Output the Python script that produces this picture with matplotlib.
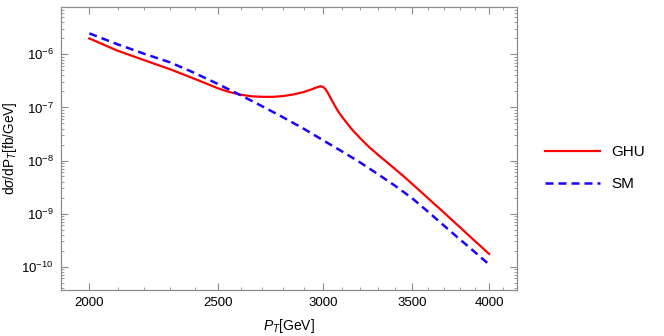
import numpy as np
import matplotlib
matplotlib.use("Agg")
import matplotlib.pyplot as plt
from matplotlib.ticker import FixedLocator, FixedFormatter, NullFormatter, LogLocator

plt.rcParams['font.family'] = ['Liberation Sans', 'DejaVu Sans']
plt.rcParams['mathtext.fontset'] = 'custom'
plt.rcParams['mathtext.rm'] = 'Liberation Sans'
plt.rcParams['mathtext.it'] = 'Liberation Sans:italic'

# transverse momentum grid (GeV) and log10 of d sigma / dP_T (fb/GeV)
pt_ghu = [2000, 2100, 2200, 2300, 2400, 2500, 2550, 2600, 2650, 2700, 2750, 2800,
          2850, 2900, 2940, 2965, 2985, 3000, 3012, 3025, 3040, 3060, 3080, 3100,
          3150, 3200, 3250, 3300, 3350, 3400, 3450, 3500, 3600, 3700, 3800, 3900, 4000]
log_ghu = [-5.70, -5.93, -6.11, -6.28, -6.46, -6.64, -6.71, -6.76, -6.79, -6.80, -6.80, -6.785,
           -6.755, -6.71, -6.66, -6.625, -6.60, -6.615, -6.655, -6.73, -6.83, -6.96, -7.08, -7.18,
           -7.40, -7.585, -7.75, -7.895, -8.03, -8.165, -8.30, -8.44, -8.715, -8.985, -9.25, -9.51, -9.76]

pt_sm = [2000, 2100, 2200, 2300, 2400, 2500, 2600, 2700, 2800, 2900, 3000,
         3100, 3200, 3300, 3400, 3500, 3600, 3700, 3800, 3900, 4000]
log_sm = [-5.605, -5.81, -5.99, -6.15, -6.35, -6.56, -6.77, -6.98, -7.19, -7.40, -7.62,
          -7.83, -8.04, -8.26, -8.48, -8.71, -8.97, -9.23, -9.48, -9.72, -9.96]

x_major = [2000, 2500, 3000, 3500, 4000]
x_minor = list(range(2000, 4200, 100))
y_major = [1e-10, 1e-9, 1e-8, 1e-7, 1e-6]

frame_gray = '#8c8c8c'

fig = plt.figure(figsize=(6.64, 3.36), dpi=100)
ax = fig.add_axes([0.0914, 0.138, 0.6876, 0.840])

ax.plot(pt_ghu, 10 ** np.array(log_ghu), color='#ff0000', lw=1.6, label='GHU')
ax.plot(pt_sm, 10 ** np.array(log_sm), color='#1a00ff', lw=1.8,
        dashes=(3.2, 2.0), label='SM')

ax.set_xscale('log')
ax.set_yscale('log')
ax.set_xlim(1903, 4200)
ax.set_ylim(10 ** -10.433, 10 ** -5.115)

ax.xaxis.set_major_locator(FixedLocator(x_major))
ax.xaxis.set_minor_locator(FixedLocator(x_minor))
ax.xaxis.set_major_formatter(FixedFormatter([str(v) for v in x_major]))
ax.xaxis.set_minor_formatter(NullFormatter())
ax.yaxis.set_major_locator(FixedLocator(y_major))
ax.yaxis.set_minor_locator(LogLocator(base=10, subs=np.arange(2, 10)))
ax.yaxis.set_minor_formatter(NullFormatter())

for spine in ax.spines.values():
    spine.set_color(frame_gray)
    spine.set_linewidth(0.9)

ax.tick_params(which='both', direction='in', top=True, right=True,
               color=frame_gray, labelsize=9.5, labelcolor='black')
ax.tick_params(which='major', length=5, width=0.8, pad=5)
ax.tick_params(which='minor', length=2.5, width=0.6)

ax.set_xlabel(r'$P_T$[GeV]', fontsize=10, labelpad=6)
ax.set_ylabel(r'd$\sigma$/dP$_T$[fb/GeV]', fontsize=9.8, va='center')
ax.yaxis.set_label_coords(-0.111, 0.5)

ax.legend(loc='center left', bbox_to_anchor=(1.03, 0.43), frameon=False,
          fontsize=11, handlelength=3.6, handletextpad=0.75, labelspacing=1.15)

fig.savefig('out.png', dpi=100)
